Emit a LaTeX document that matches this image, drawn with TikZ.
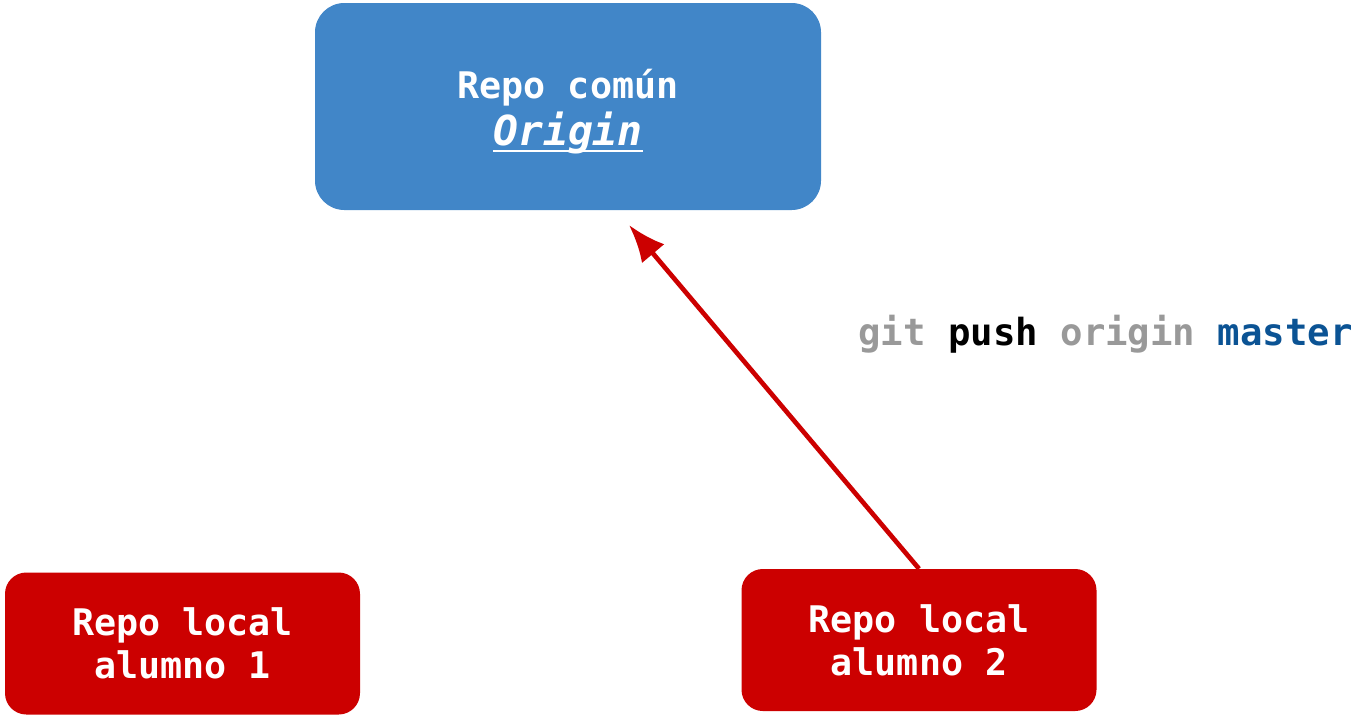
\documentclass[tikz,border=0pt]{standalone}
\usepackage{fontspec}
\setmonofont{DejaVu Sans Mono}
\usepackage{xcolor}
\usetikzlibrary{shapes, arrows.meta, positioning, calc}
\definecolor{origblue}{HTML}{4186C8}
\definecolor{localred}{HTML}{CC0000}
\definecolor{cmdgray}{HTML}{999999}
\definecolor{cmdblue}{HTML}{0B5394}
\newcommand{\thickul}[1]{\setbox0\hbox{#1}\leavevmode\rlap{\copy0}\raisebox{-5pt}{\rule{\wd0}{2pt}}}
\tikzstyle{remote} = [rectangle, fill=origblue, text=white, align=center, minimum width=379.5pt, minimum height=155.25pt, rounded corners=22pt, font=\ttfamily\bfseries\fontsize{27.5}{32}\selectfont]
\tikzstyle{local} = [rectangle, fill=localred, text=white, align=center, minimum width=266.25pt, minimum height=106.5pt, rounded corners=16pt, font=\ttfamily\bfseries\fontsize{27.5}{32}\selectfont]
\tikzstyle{arrow} = [draw=localred, -{Latex[length=28pt, width=22pt]}, line width=3.5pt]
\begin{document}
\begin{tikzpicture}[x=0.75pt, y=-0.75pt]
    \useasboundingbox (0,0) rectangle (1359,715);
    \node (origin) [remote] at (568,106.5) {\rule{0pt}{30pt}Repo común\\[3pt]\thickul{\fontsize{31}{32}\selectfont\textit{Origin}}};
    \node (alumno1) [local] at (182.5,643.5) {Repo local\\alumno 1};
    \node (alumno2) [local] at (919,640) {Repo local\\alumno 2};
    \coordinate (pushend) at (629,225);

    \draw [arrow] (alumno2.north) -- (pushend);
    \node (cmd) [anchor=base west, inner sep=0pt, font=\ttfamily\bfseries\fontsize{28}{32}\selectfont] at (858,345)
        {\textcolor{cmdgray}{git} push \textcolor{cmdgray}{origin} \textcolor{cmdblue}{master}};
\end{tikzpicture}
\end{document}
